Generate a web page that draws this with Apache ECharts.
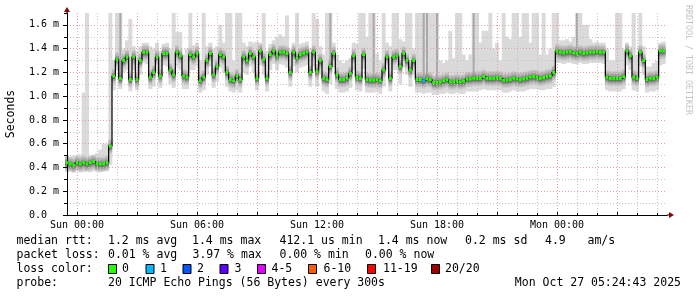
<!DOCTYPE html>
<html><head><meta charset="utf-8">
<script src="https://cdn.jsdelivr.net/npm/echarts@6/dist/echarts.min.js"></script>
<style>html,body{margin:0;padding:0;background:#fff}#c{width:697px;height:297px}</style>
</head><body><div id="c"></div>
<script>
// ---- data: one sample every 10 minutes, starting Sat 23:30 (values in ms) ----
const median = [
  0.44,0.43,0.42,0.44,0.43,0.44,0.43,0.44,0.45,0.43,0.43,0.43,0.44,
  0.58,1.17,1.31,1.15,1.30,1.33,1.14,1.33,1.14,1.30,1.37,1.37,1.16,1.20,1.33,1.17,1.36,1.36,1.22,1.18,1.37,1.34,1.17,1.16,1.35,1.33,1.36,1.13,1.16,1.30,1.36,
  1.18,1.25,1.35,1.33,1.20,1.14,1.13,1.17,1.14,1.33,1.30,1.36,1.33,1.15,1.38,1.31,1.15,1.35,1.38,1.34,1.37,1.37,1.36,1.20,1.37,1.32,1.35,1.36,1.37,1.20,1.37,1.21,1.30,1.15,1.14,1.25,1.36,1.18,1.14,1.14,1.15,
  1.19,1.34,1.16,1.15,1.35,1.14,1.135,1.135,1.14,1.13,1.22,1.33,1.15,1.33,1.34,1.25,1.36,1.30,1.22,1.30,1.14,1.14,1.13,1.145,1.14,1.115,1.115,1.12,1.13,1.14,1.12,1.12,1.13,1.12,1.125,1.145,1.145,1.15,1.15,1.15,1.165,1.15,1.15,
  1.15,1.155,1.15,1.135,1.135,1.14,1.15,1.145,1.14,1.145,1.15,1.16,1.165,1.16,1.15,1.155,1.165,1.17,1.20,1.38,1.37,1.365,1.37,1.375,1.365,1.36,1.37,1.36,1.365,1.37,1.37,1.375,1.37,1.37,1.16,1.15,1.15,1.15,1.15,1.165,1.38,1.34,1.16,1.15,1.37,1.30,1.14,1.15,1.15,1.16,1.38,1.38
];
const smokeHi = [
  0.50,0.49,0.50,0.50,0.51,1.03,1.70,0.50,0.50,0.52,0.55,0.60,0.60,
  1.70,1.30,1.70,1.70,1.40,1.47,1.65,1.42,1.38,1.42,1.45,1.45,1.42,1.40,1.45,1.38,1.44,1.45,1.40,1.70,1.54,1.54,1.35,1.40,1.70,1.43,1.45,1.30,1.70,1.42,1.45,
  1.40,1.42,1.60,1.45,1.70,1.70,1.30,1.70,1.70,1.45,1.42,1.46,1.45,1.46,1.45,1.70,1.38,1.44,1.47,1.50,1.52,1.50,1.68,1.40,1.45,1.70,1.44,1.45,1.46,1.40,1.70,1.65,1.42,1.35,1.70,1.70,1.45,1.35,1.30,1.28,1.30,
  1.32,1.45,1.44,1.70,1.70,1.50,1.70,1.70,1.36,1.30,1.70,1.45,1.42,1.70,1.70,1.48,1.46,1.70,1.70,1.40,1.70,1.70,1.70,1.70,1.70,1.70,1.70,1.30,1.28,1.30,1.55,1.32,1.70,1.70,1.35,1.30,1.35,1.70,1.70,1.45,1.55,1.55,1.70,
  1.40,1.45,1.30,1.70,1.50,1.48,1.70,1.70,1.50,1.70,1.70,1.45,1.70,1.70,1.35,1.70,1.35,1.40,1.70,1.70,1.47,1.47,1.48,1.46,1.50,1.70,1.70,1.60,1.60,1.48,1.45,1.46,1.45,1.45,1.40,1.30,1.30,1.70,1.70,1.40,1.45,1.42,1.70,1.35,1.70,1.42,1.25,1.25,1.28,1.30,1.45,1.46
];
const smokeLo = [
  0.36,0.37,0.36,0.37,0.36,0.36,0.37,0.36,0.37,0.37,0.36,0.37,0.37,
  0.42,1.05,1.22,1.06,1.20,1.22,1.04,1.22,1.05,1.18,1.28,1.27,1.06,1.08,1.20,1.07,1.26,1.25,1.10,1.07,1.25,1.22,1.06,1.06,1.22,1.22,1.25,1.03,1.05,1.18,1.25,
  1.07,1.12,1.24,1.20,1.08,1.04,1.03,1.05,1.03,1.20,1.18,1.25,1.20,1.05,1.26,1.18,1.04,1.22,1.27,1.22,1.27,1.26,1.24,1.08,1.25,1.20,1.24,1.25,1.26,1.08,1.25,1.08,1.18,1.04,1.02,1.10,1.24,1.06,1.03,1.03,1.04,
  1.07,1.22,1.05,1.04,1.23,1.03,1.03,1.03,1.04,1.02,1.08,1.22,1.04,1.22,1.22,1.10,1.24,1.18,1.08,1.18,1.03,1.03,1.02,1.03,1.03,1.01,1.01,1.02,1.02,1.03,1.02,1.02,1.03,1.02,1.02,1.04,1.04,1.04,1.04,1.05,1.06,1.05,1.05,
  1.05,1.05,1.05,1.03,1.03,1.04,1.05,1.04,1.04,1.04,1.05,1.06,1.06,1.06,1.05,1.05,1.06,1.06,1.08,1.28,1.28,1.27,1.28,1.28,1.27,1.27,1.28,1.27,1.27,1.28,1.28,1.28,1.28,1.27,1.05,1.04,1.04,1.04,1.04,1.06,1.26,1.22,1.05,1.04,1.25,1.18,1.03,1.04,1.04,1.05,1.26,1.27
];
// samples whose darker smoke reaches the top of the graph
const darkSpikes = [16,79,92,107,108,111,122,153];
// samples with 1/20 packet loss
const lossOneIdx = [107];

const yMax = 1.7;
const dayNames = ['Sat','Sun','Mon'];
const startMinute = 23*60 + 30;   // Sat 23:30
const stepMinutes = 10;
const slotCount = 181;            // Sat 23:30 .. Mon 05:30

const rttStats = [['median rtt:',16.5],['1.2 ms avg',108],['1.4 ms max',192],['412.1 us min',279.5],['1.4 ms now',378],['0.2 ms sd',465],['4.9',545],['am/s',587.5]];
const lossStats = [['packet loss:',16.5],['0.01 % avg',108],['3.97 % max',192.5],['0.00 % min',279.5],['0.00 % now',365]];
const lossLegend = [['0','#26ff00',108,122],['1','#00b8ff',145.5,160],['2','#0059ff',182.5,197],['3','#5e00ff',219.5,234.5],['4-5','#e000ff',257,271.5],['6-10','#ff5e00',308,323.5],['11-19','#ff0000',367,383],['20/20','#a10000',431,445]];
const probeText = '20 ICMP Echo Pings (56 Bytes) every 300s';
const stampText = 'Mon Oct 27 05:24:43 2025';

// ---- categories ----
const categories = [];
const slotMin = [];
for (let i = 0; i < slotCount; i++) {
  const m = startMinute + i*stepMinutes;
  const mm = m % 1440;
  slotMin.push(mm);
  categories.push(dayNames[Math.floor(m/1440)] + ' ' + String(Math.floor(mm/60)).padStart(2,'0') + ':' + String(mm%60).padStart(2,'0'));
}
const onHour = (i, every) => slotMin[i] % (60*every) === 0;

const smokeData = median.map((v,i) => [i, smokeLo[i], smokeHi[i]]);
const medData = median.map((v,i) => [i, v]);
const spikeData = darkSpikes.map(i => [i, median[i], yMax]);

const FONT = 'DejaVu Sans Mono';
const gridMinor = '#c4c4c4', gridMajor = '#e2a2a2';

const chart = echarts.init(document.getElementById('c'), null, {renderer:'canvas'});

const option = {
  animation: false,
  backgroundColor: '#fff',
  grid: {left: 67, top: 13, width: 600, height: 202, containLabel: false},
  xAxis: [
    {type:'category', data: categories, boundaryGap:false, z:3,
     axisLine:{show:true, lineStyle:{color:'#000', width:1}},
     axisTick:{show:true, interval:(i)=>onHour(i,1), length:2, inside:true, lineStyle:{color:'#000'}},
     axisLabel:{show:false},
     splitLine:{show:true, interval:(i)=>onHour(i,1), lineStyle:{color:gridMinor, type:[1,2], width:1}}},
    {type:'category', data: categories, boundaryGap:false, position:'bottom', offset:0, z:3,
     axisLine:{show:false},
     axisTick:{show:true, interval:(i)=>onHour(i,3), length:3, inside:true, lineStyle:{color:'#000'}},
     axisLabel:{show:true, interval:(i)=>onHour(i,6), fontFamily:FONT, fontSize:10, color:'#000', margin:5},
     splitLine:{show:true, interval:(i)=>onHour(i,3), lineStyle:{color:gridMajor, type:[1,2], width:1}}}
  ],
  yAxis: [
    {type:'value', min:0, max:yMax, interval:0.1, z:3,
     axisLine:{show:false}, axisLabel:{show:false},
     axisTick:{show:true, length:3, lineStyle:{color:'#000'}},
     splitLine:{show:true, showMinLine:false, showMaxLine:false, lineStyle:{color:gridMinor, type:[1,2]}}},
    {type:'value', min:0, max:yMax, interval:0.2, position:'left', offset:0, z:3,
     axisLine:{show:true, lineStyle:{color:'#000'}},
     axisTick:{show:true, length:4, lineStyle:{color:'#000'}},
     axisLabel:{fontFamily:FONT, fontSize:10, color:'#000', margin:8, showMaxLabel:false,
       formatter:(v)=> v === 0 ? '0.0  ' : v.toFixed(1) + ' m'},
     splitLine:{show:true, showMinLine:false, showMaxLine:false, lineStyle:{color:gridMajor, type:[1,2]}}}
  ],
  series: [
    {type:'custom', name:'smoke', xAxisIndex:0, yAxisIndex:0, z:1, silent:true,
     data: smokeData, encode:{x:0, y:[1,2]},
     renderItem:(params, api) => {
       const i = api.value(0);
       const lo = api.coord([i, api.value(1)]);
       const hi = api.coord([i, api.value(2)]);
       const w = api.size([1,0])[0];
       return {type:'rect', shape:{x: lo[0]-w/2-0.3, y: hi[1], width: w+0.6, height: lo[1]-hi[1]}, style:{fill:'#dadada'}};
     }},
    {type:'custom', name:'darkSpikes', xAxisIndex:0, yAxisIndex:0, z:1, silent:true,
     data: spikeData, encode:{x:0, y:[1,2]},
     renderItem:(params, api) => {
       const i = api.value(0);
       const lo = api.coord([i, api.value(1)]);
       const hi = api.coord([i, api.value(2)]);
       return {type:'rect', shape:{x: lo[0]-1, y: hi[1], width: 2, height: lo[1]-hi[1]}, style:{fill:'#a8a8a8'}};
     }},
    {type:'custom', name:'core', xAxisIndex:0, yAxisIndex:0, z:2, silent:true,
     data: medData, encode:{x:0, y:1},
     renderItem:(params, api) => {
       const i = api.value(0);
       const p = api.coord([i, api.value(1)]);
       const w = api.size([1,0])[0];
       return {type:'rect', shape:{x: p[0]-w/2-0.3, y: p[1]-7, width: w+0.6, height: 15},
         style:{fill: new echarts.graphic.LinearGradient(0,0,0,1,[
           {offset:0, color:'rgba(170,170,170,0.3)'},
           {offset:0.3, color:'rgba(130,130,130,0.7)'},
           {offset:0.47, color:'rgba(60,60,60,0.9)'},
           {offset:0.62, color:'rgba(100,100,100,0.85)'},
           {offset:0.82, color:'rgba(150,150,150,0.55)'},
           {offset:1, color:'rgba(180,180,180,0.25)'}])}};
     }},
    {type:'line', name:'median', xAxisIndex:0, yAxisIndex:0, z:4, silent:true,
     data: median, step:'middle', showSymbol:false, symbol:'none',
     lineStyle:{color:'#000', width:1.2}},
    {type:'custom', name:'loss', xAxisIndex:0, yAxisIndex:0, z:5, silent:true,
     data: medData, encode:{x:0, y:1},
     renderItem:(params, api) => {
       const i = api.value(0);
       const p = api.coord([i, api.value(1)]);
       const w = api.size([1,0])[0];
       const col = lossOneIdx.includes(i) ? lossLegend[1][1] : lossLegend[0][1];
       return {type:'rect', shape:{x: p[0]-w/2+0.2, y: p[1]-1.5, width: w-0.4, height: 3}, style:{fill: col}};
     }}
  ]
};
chart.setOption(option);

// ---- decorations & legend text ----
const origin = chart.convertToPixel({xAxisIndex:0, yAxisIndex:0}, [0, 0]);
const topLeft = chart.convertToPixel({xAxisIndex:0, yAxisIndex:0}, [0, yMax]);
const right = chart.convertToPixel({xAxisIndex:0, yAxisIndex:0}, [slotCount-1, 0]);
const arrowCol = '#8b0000';
const txt = (text, x, y, extra) => Object.assign({type:'text', x, y, silent:true,
  style: Object.assign({text, fontFamily:FONT, fontSize:11.5, fill:'#000', align:'left', verticalAlign:'middle'}, extra || {})});
const g = [];
g.push({type:'line', shape:{x1:origin[0], y1:topLeft[1], x2:origin[0], y2:topLeft[1]-3}, style:{stroke:'#000', lineWidth:1}});
g.push({type:'polygon', shape:{points:[[origin[0], topLeft[1]-6],[origin[0]-3, topLeft[1]-1],[origin[0]+3, topLeft[1]-1]]}, style:{fill:arrowCol}});
g.push({type:'line', shape:{x1:right[0], y1:origin[1], x2:right[0]+3, y2:origin[1]}, style:{stroke:'#000', lineWidth:1}});
g.push({type:'polygon', shape:{points:[[right[0]+7, origin[1]],[right[0]+2, origin[1]-3],[right[0]+2, origin[1]+3]]}, style:{fill:arrowCol}});
const seconds = txt('Seconds', 11, (origin[1]+topLeft[1])/2, {align:'center'});
seconds.rotation = Math.PI/2;
g.push(seconds);
g.push({type:'text', x:688, y:5, rotation:-Math.PI/2, silent:true,
  style:{text:'RRDTOOL / TOBI OETIKER', fontFamily:FONT, fontSize:8.3, fill:'#c4c4c4', align:'left', verticalAlign:'middle'}});
rttStats.forEach(([t,x]) => g.push(txt(t, x, 241)));
lossStats.forEach(([t,x]) => g.push(txt(t, x, 255)));
g.push(txt('loss color:', 16.5, 269));
lossLegend.forEach(([t,c,sx,tx]) => {
  g.push({type:'rect', shape:{x:sx+0.5, y:264.5, width:8, height:9}, style:{fill:c, stroke:'#000', lineWidth:1}});
  g.push(txt(t, tx, 269));
});
g.push(txt('probe:', 16.5, 283));
g.push(txt(probeText, 108, 283));
g.push(txt(stampText, 681, 283, {align:'right'}));
chart.setOption({graphic: g});
</script>
</body></html>
